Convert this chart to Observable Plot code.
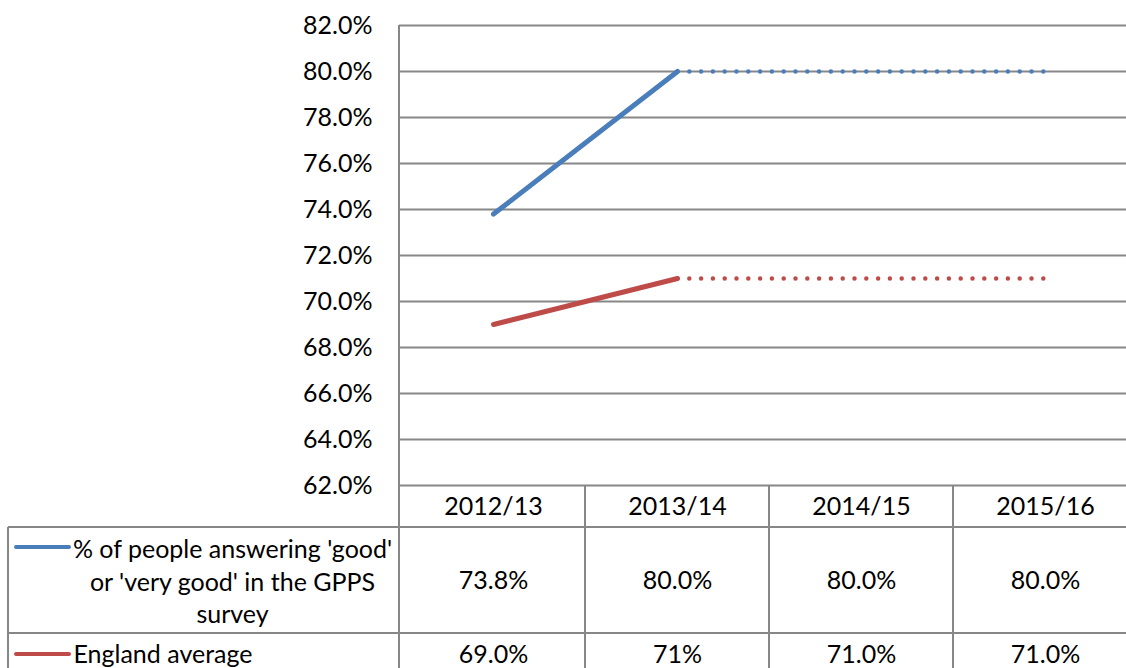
<!DOCTYPE html>
<html><head><meta charset="utf-8">
<script src="https://cdn.jsdelivr.net/npm/d3@7"></script>
<script src="https://cdn.jsdelivr.net/npm/@observablehq/plot@0.6"></script>
<style>html,body{margin:0;padding:0;background:#fff;overflow:hidden}</style>
</head><body><div id="chart"></div>
<script>
const years = ["2012/13", "2013/14", "2014/15", "2015/16"];
const gppsValues = [73.8, 80.0, 80.0, 80.0];
const englandValues = [69.0, 71.0, 71.0, 71.0];
const gppsLabels = ["73.8%", "80.0%", "80.0%", "80.0%"];
const englandLabels = ["69.0%", "71%", "71.0%", "71.0%"];
const seriesNames = ["% of people answering 'good'\nor 'very good' in the GPPS\nsurvey", "England average"];
const seriesColors = ["#4A7EBB", "#BE4B48"];
const yTicks = [62, 64, 66, 68, 70, 72, 74, 76, 78, 80, 82];
const actualCount = 2; // first two years solid, remainder dotted

const rows = vals => years.map((year, i) => ({year, value: vals[i]}));
const gpps = rows(gppsValues), eng = rows(englandValues);

const W = 1126, H = 668;
const grid = "#878787";
const mT = 25, mB = 183, mL = 399;
const FS = 25;

function seriesMarks(data, color) {
  return [
    Plot.line(data.slice(0, actualCount), {x: "year", y: "value", stroke: color, strokeWidth: 5, strokeLinecap: "round"}),
    Plot.line(data.slice(actualCount - 1), {x: "year", y: "value", stroke: color, strokeWidth: 4.5, strokeDasharray: "0 11.8", strokeLinecap: "round"})
  ];
}
const txt = {fontSize: FS, fill: "#000", lineAnchor: "middle"};

const plot = Plot.plot({
  width: W, height: H, marginLeft: mL, marginRight: 0, marginTop: mT, marginBottom: mB,
  style: {fontFamily: "Lato, sans-serif", fontSize: FS + "px", color: "#000", background: "#fff", overflow: "hidden"},
  x: {type: "point", domain: years, range: [399, 1138], padding: 0.5, axis: null},
  y: {domain: [62, 82], ticks: 10, tickFormat: d => d.toFixed(1) + "%", tickSize: 0, tickPadding: 27, label: null},
  marks: [
    Plot.ruleY(yTicks, {stroke: grid, strokeWidth: 2}),
    ...seriesMarks(gpps, seriesColors[0]),
    ...seriesMarks(eng, seriesColors[1]),
    Plot.text(years, {x: d => d, frameAnchor: "bottom", dy: 21, textAnchor: "middle", ...txt}),
    Plot.text(years, {x: d => d, text: (d, i) => gppsLabels[i], frameAnchor: "bottom", dy: 95, textAnchor: "middle", ...txt}),
    Plot.text(years, {x: d => d, text: (d, i) => englandLabels[i], frameAnchor: "bottom", dy: 169, textAnchor: "middle", ...txt}),
    Plot.text([seriesNames[0]], {text: d => d, frameAnchor: "bottom-left", dx: -167, dy: 95, lineHeight: 1.3, textAnchor: "middle", ...txt}),
    Plot.text([seriesNames[1]], {text: d => d, frameAnchor: "bottom-left", dx: -326, dy: 169, textAnchor: "start", ...txt})
  ]
});
document.getElementById("chart").appendChild(plot);

// table borders and legend swatches, positioned from the plot's x scale
const xs = plot.scale("x");
const centers = years.map(y => xs.apply(y));
const step = centers[1] - centers[0];
const bottom = H - mB;
const g = d3.select(plot).append("g").attr("stroke", grid).attr("stroke-width", 2);
const line = (x1, y1, x2, y2) => g.append("line").attr("x1", x1).attr("y1", y1).attr("x2", x2).attr("y2", y2);
line(8, bottom + 42, W, bottom + 42);
line(8, bottom + 148, W, bottom + 148);
line(8, bottom + 42, 8, H);
line(mL, mT, mL, H);
centers.slice(1).forEach(c => line(c - step / 2, bottom, c - step / 2, H));
const sw = d3.select(plot).append("g").attr("stroke-width", 4).attr("stroke-linecap", "round");
sw.append("line").attr("x1", 16).attr("x2", 69).attr("y1", bottom + 62).attr("y2", bottom + 62).attr("stroke", seriesColors[0]);
sw.append("line").attr("x1", 16).attr("x2", 69).attr("y1", bottom + 169).attr("y2", bottom + 169).attr("stroke", seriesColors[1]);
</script>
</body></html>
